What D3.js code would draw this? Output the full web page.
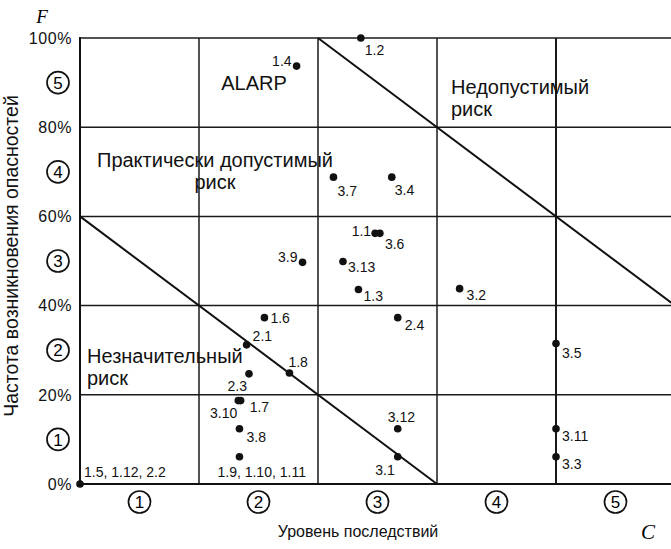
<!DOCTYPE html>
<html lang="ru">
<head>
    <meta charset="UTF-8">
    <title>Матрица рисков</title>
    <script src="https://d3js.org/d3.v7.min.js"></script>
    <style>
        body { margin: 0; background: #fff; }
        svg { font-family: "Liberation Sans", Arial, sans-serif; }
        .grid line { stroke: #1a1a1a; stroke-width: 1.5; }
        .border { stroke: #111; stroke-width: 2; }
        .zone { stroke: #111; stroke-width: 2; fill: none; }
        .pt-label { font-size: 14px; fill: #111; }
        .tick-label { font-size: 16px; letter-spacing: 0.6px; fill: #111; }
        .region { font-size: 20px; fill: #111; }
        .axis-title { font-size: 16px; fill: #111; }
    </style>
</head>
<body>
    <svg width="671" height="549"></svg>
    <script>
        // уровни последствий (C) и частоты (F, %)
        const levels = [1, 2, 3, 4, 5];
        const freqTicks = [0, 20, 40, 60, 80, 100];

        // точки опасностей: имя, C (в долях столбца), F (%)
        const pointNames = ["1.2", "1.4", "3.7", "3.4", "1.1", "3.6", "3.13", "3.9", "1.3", "3.2",
            "2.4", "3.5", "1.6", "2.1", "1.8", "2.3", "1.7", "3.10", "3.8", "1.9, 1.10, 1.11",
            "1.5, 1.12, 2.2", "3.12", "3.1", "3.11", "3.3"];
        const pointC = [2.36, 1.82, 2.13, 2.62, 2.48, 2.52, 2.21, 1.87, 2.34, 3.19,
            2.67, 4.0, 1.55, 1.40, 1.76, 1.42, 1.35, 1.33, 1.34, 1.34,
            0, 2.67, 2.67, 4.0, 4.0];
        const pointF = [100, 93.7, 68.8, 68.8, 56.2, 56.2, 49.9, 49.7, 43.6, 43.8,
            37.3, 31.5, 37.3, 31.2, 24.9, 24.7, 18.7, 18.7, 12.4, 6.1,
            0, 12.4, 6.1, 12.4, 6.1];

        // границы зон риска
        const lowerBoundary = [[0, 60], [3, 0]];
        const upperBoundary = [[2, 100], [5, 40]];

        // подписи зон
        const regionLines = [
            ["ALARP"],
            ["Практически допустимый", "риск"],
            ["Недопустимый", "риск"],
            ["Незначительный", "риск"]
        ];

        // расположение подписей точек (сдвиг в px и выравнивание)
        const labelPlace = {
            "1.2": [4, 17, "start"], "1.4": [-5, 0, "end"], "3.7": [4, 19, "start"],
            "3.4": [3, 18, "start"], "1.1": [-4, 3, "end"], "3.6": [5, 16, "start"],
            "3.13": [5, 11, "start"], "3.9": [-5, 0, "end"], "1.3": [5, 11, "start"],
            "3.2": [7, 11, "start"], "2.4": [7, 12, "start"], "3.5": [6, 14, "start"],
            "1.6": [6, 5, "start"], "2.1": [6, -4, "start"], "1.8": [-1, -6, "start"],
            "2.3": [-2, 17, "end"], "1.7": [9, 11, "start"], "3.10": [-1, 17, "end"],
            "3.8": [7, 13, "start"], "1.9, 1.10, 1.11": [-22, 20, "start"],
            "1.5, 1.12, 2.2": [4, -7, "start"], "3.12": [-10, -7, "start"],
            "3.1": [-3, 18, "end"], "3.11": [6, 12, "start"], "3.3": [6, 12, "start"]
        };

        const svg = d3.select("svg");

        const x = d3.scaleLinear().domain([0, 5]).range([80, 675]);
        const y = d3.scaleLinear().domain([0, 100]).range([484, 38]);

        // сетка
        const grid = svg.append("g").attr("class", "grid");
        grid.selectAll(".v")
            .data(levels.slice(0, 4))
            .enter().append("line")
            .attr("x1", d => x(d)).attr("x2", d => x(d))
            .attr("y1", y(100)).attr("y2", y(0))
            .style("stroke-width", d => d === 4 ? 2 : 1.5);
        grid.selectAll(".h")
            .data(freqTicks.filter(d => d > 0))
            .enter().append("line")
            .attr("x1", x(0)).attr("x2", 671)
            .attr("y1", d => y(d)).attr("y2", d => y(d));

        // оси
        svg.append("line").attr("class", "border")
            .attr("x1", x(0)).attr("x2", x(0)).attr("y1", y(100) - 1).attr("y2", y(0));
        svg.append("line").attr("class", "border")
            .attr("x1", x(0)).attr("x2", 671).attr("y1", y(0)).attr("y2", y(0));

        // границы зон
        const line = d3.line().x(d => x(d[0])).y(d => y(d[1]));
        svg.append("path").attr("class", "zone").attr("d", line(lowerBoundary));
        svg.append("path").attr("class", "zone").attr("d", line(upperBoundary));

        // подписи делений F
        svg.selectAll(".tick-label")
            .data(freqTicks)
            .enter().append("text")
            .attr("class", "tick-label")
            .attr("x", 72)
            .attr("y", d => y(d))
            .attr("dy", "0.36em")
            .attr("text-anchor", "end")
            .text(d => d + "%");

        // номера в кружках
        function circled(g, cx, cy, n) {
            g.append("circle").attr("cx", cx).attr("cy", cy).attr("r", 11)
                .attr("fill", "none").attr("stroke", "#111").attr("stroke-width", 1.7);
            g.append("text").attr("x", cx).attr("y", cy).attr("dy", "0.36em")
                .attr("text-anchor", "middle").style("font-size", "17px").text(n);
        }
        const marks = svg.append("g");
        levels.forEach(n => circled(marks, 58, y(n * 20 - 10), n));
        levels.forEach(n => circled(marks, x(n - 0.5), 502, n));

        // зоны
        const regionPos = [
            [254, 90, "middle"], [215, 167, "middle"], [451, 94, "start"], [87, 363, "start"]
        ];
        regionLines.forEach((lines, i) => {
            const t = svg.append("text").attr("class", "region")
                .attr("x", regionPos[i][0]).attr("y", regionPos[i][1])
                .attr("text-anchor", regionPos[i][2]);
            lines.forEach((s, j) => {
                t.append("tspan").attr("x", regionPos[i][0]).attr("dy", j ? 22 : 0).text(s);
            });
        });

        // точки
        const points = pointNames.map((name, i) => ({ name, c: pointC[i], f: pointF[i] }));
        svg.selectAll(".pt")
            .data(points)
            .enter().append("circle")
            .attr("cx", d => x(d.c))
            .attr("cy", d => y(d.f))
            .attr("r", 3.8)
            .attr("fill", "#111");
        svg.selectAll(".pt-label")
            .data(points)
            .enter().append("text")
            .attr("class", "pt-label")
            .attr("x", d => x(d.c) + labelPlace[d.name][0])
            .attr("y", d => y(d.f) + labelPlace[d.name][1])
            .attr("text-anchor", d => labelPlace[d.name][2])
            .text(d => d.name);

        // названия осей
        svg.append("text").attr("class", "axis-title")
            .attr("x", 358).attr("y", 537).attr("text-anchor", "middle")
            .text("Уровень последствий");
        svg.append("text").attr("class", "axis-title")
            .attr("transform", "translate(18, 256) rotate(-90)")
            .attr("text-anchor", "middle")
            .style("font-size", "19.5px")
            .text("Частота возникновения опасностей");
        svg.append("text")
            .attr("x", 42).attr("y", 23)
            .attr("text-anchor", "middle")
            .style("font-family", "'Liberation Serif', serif")
            .style("font-style", "italic")
            .style("font-size", "19px")
            .text("F");
        svg.append("text")
            .attr("x", 648).attr("y", 539)
            .attr("text-anchor", "middle")
            .style("font-family", "'Liberation Serif', serif")
            .style("font-style", "italic")
            .style("font-size", "21px")
            .text("C");
    </script>
</body>
</html>
